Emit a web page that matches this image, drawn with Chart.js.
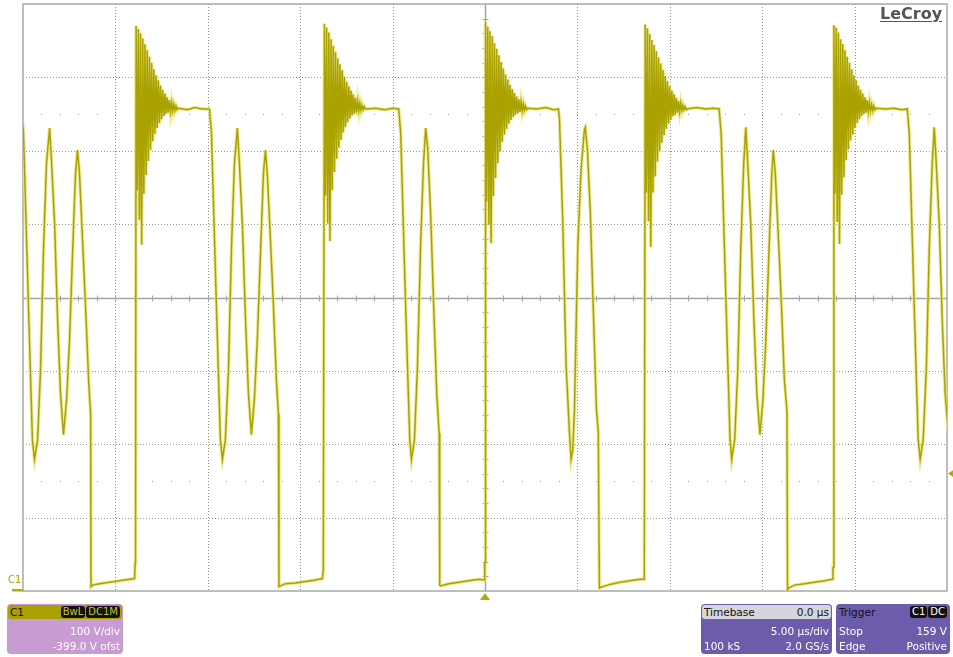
<!DOCTYPE html>
<html>
<head>
<meta charset="utf-8">
<script src="https://cdn.jsdelivr.net/npm/chart.js@4.4.1/dist/chart.umd.min.js"></script>
<style>
  html, body { margin: 0; padding: 0; background: #fff; }
  #wrap { position: relative; width: 953px; height: 657px; overflow: hidden; font-family: "DejaVu Sans", sans-serif; }
  #scope { position: absolute; left: 0; top: 0; }
  .logo { position: absolute; left: 880px; top: 4px; font-size: 16px; font-weight: bold; color: #555; text-decoration: underline; text-underline-offset: 2px; }
  .gnd { position: absolute; left: 8px; top: 574px; font-size: 10px; color: #a9a100; }
  .box { position: absolute; top: 604px; height: 50px; border-radius: 4px; overflow: hidden; font-size: 10.5px; color: #fff; }
  .box .hdr { position: absolute; left: 1px; right: 1px; top: 1px; height: 14px; line-height: 14px; border-radius: 3px; color: #111; display: flex; justify-content: space-between; padding: 0 2px; }
  .box .row { position: absolute; left: 3px; right: 3px; height: 14px; line-height: 14px; display: flex; justify-content: space-between; }
  .pill { background: #111; border-radius: 3px; padding: 0 2px; margin-left: 1px; line-height: 12px; height: 12px; margin-top: 1px; font-size: 10px; }
  #c1 { left: 7px; width: 116px; background: #c89bd2; }
  #c1 .hdr { background: #a9a100; }
  #c1 .pill { color: #c8c040; }
  #tb { left: 701px; width: 131px; background: #6c5cab; }
  #tb .hdr { background: #d6d5dc; }
  #trg { left: 836px; width: 114px; background: #6c5cab; }
  #trg .hdr { background: #6c5cab; }
  #trg .pill { color: #fff; }
</style>
</head>
<body>
<div id="wrap">
  <canvas id="scope" width="953" height="657"></canvas>
  <div class="logo">LeCroy</div>
  <div class="gnd">C1</div>
  <div class="box" id="c1">
    <div class="hdr"><span>C1</span><span style="display:flex"><span class="pill">BwL</span><span class="pill">DC1M</span></span></div>
    <div class="row" style="top:20px"><span></span><span>100 V/div</span></div>
    <div class="row" style="top:35px"><span></span><span>-399.0 V ofst</span></div>
  </div>
  <div class="box" id="tb">
    <div class="hdr"><span>Timebase</span><span>0.0 µs</span></div>
    <div class="row" style="top:20px"><span></span><span>5.00 µs/div</span></div>
    <div class="row" style="top:35px"><span>100 kS</span><span>2.0 GS/s</span></div>
  </div>
  <div class="box" id="trg">
    <div class="hdr"><span>Trigger</span><span style="display:flex"><span class="pill">C1</span><span class="pill">DC</span></span></div>
    <div class="row" style="top:20px"><span>Stop</span><span>159 V</span></div>
    <div class="row" style="top:35px"><span>Edge</span><span>Positive</span></div>
  </div>
</div>
<script>
// screen: 10 div x 5 us, 8 div x 100 V, offset -399 V
const xMin = -25, xMax = 25;
const yMin = -1, yMax = 799;
const xDivs = [-20, -15, -10, -5, 5, 10, 15, 20];
const yDivs = [99, 199, 299, 499, 599, 699];
const trigLevel = 159;   // V
const trigTime = 0;      // us

// visible tail of the pulse before the first edge (us, V)
const leadIn = [
  [-25.08, 656], [-25.03, 640], [-24.97, 622], [-24.70, 383], [-24.49, 205], [-24.38, 178],
  [-24.21, 205], [-24.05, 301], [-23.89, 465], [-23.73, 581], [-23.56, 630],
  [-23.45, 581], [-23.29, 500], [-23.13, 370], [-22.97, 268], [-22.81, 212],
  [-22.64, 260], [-22.48, 342], [-22.32, 458], [-22.16, 568], [-22.05, 600],
  [-21.94, 567], [-21.78, 478], [-21.62, 389], [-21.45, 287], [-21.34, 240], [-21.32, 5],
  [-21.24, 7], [-20.86, 9], [-20.32, 11], [-19.77, 13], [-19.23, 15], [-18.96, 16], [-18.93, 38],
];

// rising edge of each pulse (us)
const cycleStart = [-18.91, -8.72, 0, 8.64, 18.85];

// ringing after each edge: time after edge (us) and volts per pulse
const ringTime = [0, 0.03, 0.09, 0.15, 0.21, 0.27, 0.33, 0.39, 0.45, 0.51, 0.57, 0.63, 0.69, 0.75,
  0.81, 0.87, 0.93, 0.99, 1.05, 1.11, 1.17, 1.23, 1.29, 1.35, 1.41, 1.47, 1.53, 1.59, 1.65,
  1.71, 1.77, 1.83, 1.89, 1.95, 2.01, 2.07, 2.13, 2.19, 2.25];
const ringVolts = [
  [39, 769, 545, 765, 505, 759, 471, 752, 540, 744, 566, 736, 585, 727, 600, 719, 612, 710, 622, 702,
   630, 695, 637, 688, 642, 682, 646, 677, 649, 672, 651, 668, 652, 665, 653, 662, 654, 660, 655],
  [28, 772, 538, 767, 500, 760, 476, 751, 545, 742, 570, 734, 588, 725, 603, 717, 614, 709, 624, 700,
   631, 693, 638, 687, 643, 681, 647, 676, 649, 671, 651, 667, 653, 664, 654, 661, 655, 659, 656],
  [38, 774, 530, 768, 498, 762, 473, 755, 537, 746, 562, 738, 582, 729, 598, 720, 611, 711, 621, 703,
   629, 696, 636, 689, 641, 683, 645, 678, 648, 673, 650, 669, 652, 666, 653, 663, 654, 660, 655],
  [15, 771, 542, 766, 503, 758, 468, 750, 542, 743, 564, 735, 584, 726, 599, 718, 610, 709, 620, 701,
   629, 694, 636, 687, 641, 681, 646, 676, 648, 671, 651, 667, 652, 664, 654, 661, 655, 659, 655],
  [31, 770, 540, 767, 502, 760, 472, 751, 539, 744, 563, 736, 586, 727, 601, 719, 613, 710, 621, 702,
   630, 695, 637, 688, 642, 682, 646, 677, 649, 672, 651, 668, 652, 665, 653, 662, 654, 660, 655],
];

// plateau, swing and low level after the ringing (us after edge, V)
const cycleTail = [
  [[2.30, 657], [2.80, 655], [3.20, 658], [3.60, 656], [4.00, 656],
   [4.11, 622], [4.38, 384], [4.59, 206], [4.70, 178],
   [4.86, 205], [5.03, 301], [5.19, 465], [5.35, 581], [5.51, 630],
   [5.62, 581], [5.78, 500], [5.95, 370], [6.11, 268], [6.27, 212],
   [6.43, 260], [6.59, 342], [6.76, 458], [6.92, 568], [7.03, 600],
   [7.13, 567], [7.30, 478], [7.46, 389], [7.62, 287], [7.73, 240], [7.76, 5],
   [7.84, 6], [8.11, 9], [8.65, 10], [9.19, 12], [9.73, 14], [10.11, 16], [10.16, 28]],
  [[2.30, 656], [2.80, 657], [3.30, 655], [3.70, 657], [4.05, 656],
   [4.16, 622], [4.43, 383], [4.65, 205], [4.74, 178],
   [4.90, 205], [5.06, 301], [5.23, 465], [5.39, 581], [5.51, 630],
   [5.62, 603], [5.78, 512], [5.95, 383], [6.11, 267], [6.24, 214], [6.27, 7],
   [6.32, 6], [6.76, 9], [7.30, 11], [7.84, 13], [8.38, 15], [8.68, 14], [8.70, 38]],
  [[2.30, 657], [2.80, 656], [3.30, 658], [3.70, 655], [3.97, 656],
   [4.03, 642], [4.21, 501], [4.39, 305], [4.57, 215], [4.66, 178],
   [4.75, 191], [4.84, 246], [5.02, 468], [5.20, 574], [5.38, 628], [5.43, 631],
   [5.54, 601], [5.70, 515], [5.86, 383], [6.03, 246], [6.13, 216], [6.19, 3],
   [6.24, 4], [6.76, 8], [7.30, 11], [7.84, 13], [8.38, 15], [8.57, 15], [8.62, 15]],
  [[2.30, 656], [2.80, 658], [3.30, 656], [3.70, 657], [4.03, 656],
   [4.14, 622], [4.41, 384], [4.62, 206], [4.71, 178],
   [4.87, 205], [5.04, 301], [5.20, 465], [5.36, 581], [5.47, 631],
   [5.58, 581], [5.74, 500], [5.91, 370], [6.07, 268], [6.24, 212],
   [6.40, 260], [6.56, 342], [6.72, 458], [6.88, 568], [6.96, 600],
   [7.07, 567], [7.24, 478], [7.40, 389], [7.56, 287], [7.70, 244], [7.73, 0],
   [7.78, 3], [8.11, 7], [8.65, 9], [9.19, 11], [9.73, 13], [10.16, 15], [10.19, 31]],
  [[2.30, 657], [2.80, 656], [3.30, 657], [3.70, 655], [4.00, 656],
   [4.11, 622], [4.38, 384], [4.59, 206], [4.70, 178],
   [4.86, 205], [5.03, 301], [5.19, 465], [5.35, 581], [5.46, 631],
   [5.57, 581], [5.73, 500], [5.89, 370], [6.05, 268], [6.22, 218], [6.30, 205]],
];

const trace = leadIn.map(([t, v]) => ({ x: t, y: v }));
cycleStart.forEach((t0, i) => {
  ringTime.forEach((dt, j) => trace.push({ x: t0 + dt, y: ringVolts[i][j] }));
  cycleTail[i].forEach(([dt, v]) => trace.push({ x: t0 + dt, y: v }));
});

const scopeGrid = {
  id: 'scopeGrid',
  beforeDatasetsDraw(chart) {
    const { ctx, chartArea: a, scales: { x, y } } = chart;
    const cx = Math.round(x.getPixelForValue(0)) + 0.5;
    const cy = Math.round(y.getPixelForValue((yMin + yMax) / 2)) + 0.5;
    ctx.save();
    ctx.lineWidth = 1;
    ctx.strokeStyle = '#959595';
    ctx.setLineDash([1, 2]);
    xDivs.forEach((t) => {
      const px = Math.round(x.getPixelForValue(t)) + 0.5;
      ctx.beginPath(); ctx.moveTo(px, a.top); ctx.lineTo(px, a.bottom); ctx.stroke();
    });
    yDivs.forEach((v) => {
      const py = Math.round(y.getPixelForValue(v)) + 0.5;
      ctx.beginPath(); ctx.moveTo(a.left, py); ctx.lineTo(a.right, py); ctx.stroke();
    });
    ctx.setLineDash([]);
    // sparse dot rows 2.5 div off centre
    ctx.fillStyle = '#9a9a9a';
    [149, 649].forEach((v) => {
      const py = Math.round(y.getPixelForValue(v));
      for (let t = xMin + 1; t < xMax; t++) ctx.fillRect(Math.round(x.getPixelForValue(t)), py, 1, 1);
    });
    // centre cross with minor ticks
    ctx.strokeStyle = '#a4a4a4';
    ctx.lineWidth = 1.5;
    ctx.beginPath();
    ctx.moveTo(a.left, cy); ctx.lineTo(a.right, cy);
    ctx.moveTo(cx, a.top); ctx.lineTo(cx, a.bottom);
    ctx.stroke();
    ctx.lineWidth = 1;
    ctx.beginPath();
    for (let t = xMin + 1; t < xMax; t++) {
      const px = Math.round(x.getPixelForValue(t)) + 0.5;
      ctx.moveTo(px, cy - 3); ctx.lineTo(px, cy + 3);
    }
    for (let v = yMin + 20; v < yMax; v += 20) {
      const py = Math.round(y.getPixelForValue(v)) + 0.5;
      ctx.moveTo(cx - 3, py); ctx.lineTo(cx + 3, py);
    }
    ctx.stroke();
    // frame
    ctx.strokeStyle = '#a8a8a8';
    ctx.lineWidth = 1.5;
    ctx.strokeRect(a.left, a.top, a.right - a.left, a.bottom - a.top);
    ctx.restore();
  },
  afterDatasetsDraw(chart) {
    const { ctx, chartArea: a, scales: { x, y } } = chart;
    ctx.save();
    ctx.fillStyle = '#b3ab00';
    ctx.strokeStyle = '#b3ab00';
    // trigger position
    const tx = x.getPixelForValue(trigTime);
    ctx.beginPath();
    ctx.moveTo(tx, a.bottom + 2); ctx.lineTo(tx + 5, a.bottom + 9); ctx.lineTo(tx - 5, a.bottom + 9);
    ctx.closePath(); ctx.fill();
    // trigger level
    const ty = y.getPixelForValue(trigLevel);
    ctx.beginPath();
    ctx.moveTo(a.right + 1, ty); ctx.lineTo(a.right + 7, ty - 4); ctx.lineTo(a.right + 7, ty + 4);
    ctx.closePath(); ctx.fill();
    // ground marker
    const gy = y.getPixelForValue(0);
    ctx.lineWidth = 2.5;
    ctx.beginPath(); ctx.moveTo(12, gy); ctx.lineTo(a.left, gy); ctx.stroke();
    ctx.restore();
  },
};

new Chart(document.getElementById('scope'), {
  type: 'scatter',
  data: {
    datasets: [
      { data: trace, showLine: true, borderColor: '#aaa200', borderWidth: 1.5, pointRadius: 0, tension: 0 },
      { data: trace, showLine: true, borderColor: 'rgba(234,230,130,0.85)', borderWidth: 3.5, pointRadius: 0, tension: 0 },
    ],
  },
  options: {
    responsive: false,
    animation: false,
    events: [],
    layout: { padding: { left: 23, right: 6, top: 4, bottom: 66 } },
    plugins: { legend: { display: false }, tooltip: { enabled: false } },
    scales: {
      x: { type: 'linear', min: xMin, max: xMax, display: false },
      y: { type: 'linear', min: yMin, max: yMax, display: false },
    },
  },
  plugins: [scopeGrid],
});
</script>
</body>
</html>
